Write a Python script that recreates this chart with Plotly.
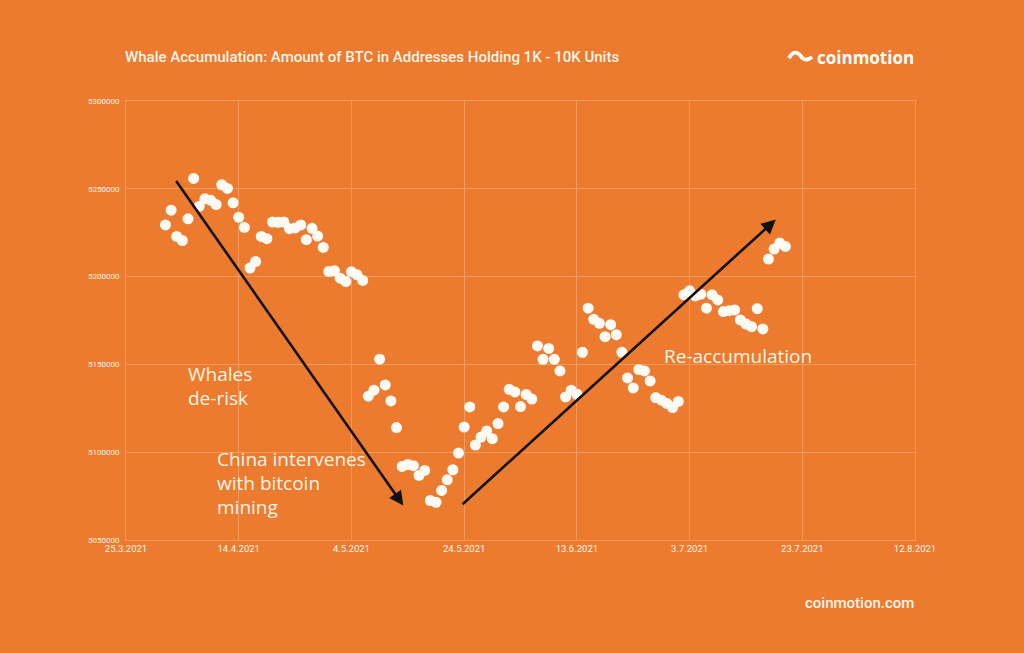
import pandas as pd
import plotly.graph_objects as go

# ---------------- data ----------------
start_date = "2021-04-01"
btc_held = [
    5229400, 5237800, 5222900, 5220500, 5232900, 5255900, 5240000, 5244300, 5243500, 5241000,
    5252300, 5250200, 5242000, 5233800, 5228000, 5204900, 5208600, 5222900, 5221600, 5231100,
    5230900, 5231100, 5227300, 5227700, 5229400, 5221000, 5227500, 5223100, 5216600, 5202900,
    5203300, 5199100, 5197200, 5202700, 5201000, 5197800,
    5131900, 5135300, 5153000, 5138300, 5129200, 5114000, 5091900, 5093000, 5092300, 5086800,
    5089600, 5072500, 5071500, 5078200, 5084300, 5090000, 5099500, 5114300, 5125800, 5104100,
    5108600, 5112100, 5107700, 5116300, 5125800,
    5135800, 5134300, 5126000, 5132900, 5130300, 5160500, 5152900, 5159100, 5152900, 5146300,
    5131500, 5135300, 5133000, 5156900, 5182000, 5175700, 5173400, 5165800, 5172600, 5166900,
    5156900, 5142300, 5136600, 5147100, 5146300, 5140600, 5131100, 5129600, 5127700, 5125400,
    5128900,
    5189600, 5191900, 5189000, 5190000, 5182000, 5189600, 5186700, 5180100, 5180600, 5181000,
    5175300, 5173000, 5171500, 5181800, 5170200, 5210000, 5215700, 5219100, 5217200,
]
dates = pd.date_range(start_date, periods=len(btc_held), freq="D")

x_tick_dates = ["2021-03-25", "2021-04-14", "2021-05-04", "2021-05-24",
                "2021-06-13", "2021-07-03", "2021-07-23", "2021-08-12"]
x_tick_labels = ["25.3.2021", "14.4.2021", "4.5.2021", "24.5.2021",
                 "13.6.2021", "3.7.2021", "23.7.2021", "12.8.2021"]
y_ticks = [5050000, 5100000, 5150000, 5200000, 5250000, 5300000]

title = "Whale Accumulation: Amount of BTC in Addresses Holding 1K - 10K Units"
label_derisk = ["Whales", "de-risk"]
label_china = ["China intervenes", "with bitcoin", "mining"]
label_reacc = ["Re-accumulation"]

# arrows (tail -> head) in data space
arrow_down = dict(tail=("2021-04-02 17:00", 5255300), head=("2021-05-13 05:00", 5069600))
arrow_up = dict(tail=("2021-05-23 11:00", 5069600), head=("2021-07-18 07:00", 5232500))

# ---------------- style ----------------
W, H = 1024, 653
L, R, T, B = 126, 915, 101, 540
BG = "#EC7B2F"
GRID = "#F29B5B"
CREAM = "#FFF4E6"
FONT = "Roboto"


def px(x):
    return (x - L) / (R - L)


def py(y):
    return (B - y) / (B - T)


fig = go.Figure()
fig.add_trace(go.Scatter(
    x=dates, y=btc_held, mode="markers",
    marker=dict(size=11, color="#FFFAF4", line=dict(width=0)),
    hoverinfo="x+y", showlegend=False,
))

annotations = []
for arr in (arrow_down, arrow_up):
    annotations.append(dict(
        x=arr["head"][0], y=arr["head"][1], ax=arr["tail"][0], ay=arr["tail"][1],
        xref="x", yref="y", axref="x", ayref="y", text="",
        showarrow=True, arrowhead=2, arrowsize=1.1, arrowwidth=2.6, arrowcolor="#111111",
        standoff=0,
    ))

LINE_H = 23.8
for lines, xx, y0 in [(label_derisk, 186, 374), (label_china, 215, 459), (label_reacc, 662, 356)]:
    for i, ln in enumerate(lines):
        annotations.append(dict(
            text=ln, x=px(xx), y=py(y0 + i * LINE_H), xref="paper", yref="paper",
            xanchor="left", yanchor="middle", align="left", showarrow=False,
            font=dict(family="Open Sans", size=19, color=CREAM),
        ))

annotations.append(dict(
    text=title, x=px(123), y=py(57), xref="paper", yref="paper",
    xanchor="left", yanchor="middle", showarrow=False,
    font=dict(family=FONT, size=15, color=CREAM, weight=500),
))
annotations.append(dict(
    text="coinmotion", x=px(916), y=py(57), xref="paper", yref="paper",
    xanchor="right", yanchor="middle", showarrow=False,
    font=dict(family="Open Sans", size=17, color="#FFFFFF", weight="bold"),
))
annotations.append(dict(
    text="coinmotion.com", x=px(916), y=py(603), xref="paper", yref="paper",
    xanchor="right", yanchor="middle", showarrow=False,
    font=dict(family=FONT, size=15, color=CREAM, weight=500),
))


# logo squiggle
def pth(points):
    s = ""
    for cmd, pts in points:
        s += cmd + " " + " ".join(f"{px(a):.5f},{py(b):.5f}" for a, b in pts) + " "
    return s


shapes = [
    dict(type="path", xref="paper", yref="paper",
         path=pth([("M", [(789, 58)]), ("Q", [(794, 49), (800, 55)]), ("Q", [(805, 63), (812, 57)])]),
         line=dict(color="#FFFFFF", width=3.8)),
]

fig.update_layout(
    width=W, height=H,
    margin=dict(l=L, r=W - R, t=T, b=H - B),
    paper_bgcolor=BG, plot_bgcolor=BG,
    annotations=annotations, shapes=shapes,
    font=dict(family=FONT, color=CREAM),
    xaxis=dict(
        range=["2021-03-25", "2021-08-12"], tickmode="array",
        tickvals=x_tick_dates, ticktext=x_tick_labels,
        showgrid=True, gridcolor=GRID, gridwidth=1,
        showline=True, linecolor=GRID, mirror=True, zeroline=False,
        tickfont=dict(size=9.5, color=CREAM, family=FONT), ticks="",
    ),
    yaxis=dict(
        range=[5050000, 5300000], tickmode="array", tickvals=y_ticks,
        ticktext=[str(v) for v in y_ticks],
        showgrid=True, gridcolor=GRID, gridwidth=1,
        showline=True, linecolor=GRID, mirror=True, zeroline=False,
        tickfont=dict(size=8, color=CREAM, family=FONT), ticks="",
        ticklabelstandoff=4,
    ),
)

fig.write_html(
    "out.html",
    config={"displayModeBar": False},
    post_script="document.body.style.margin='0';document.body.style.background='%s';" % BG,
)
